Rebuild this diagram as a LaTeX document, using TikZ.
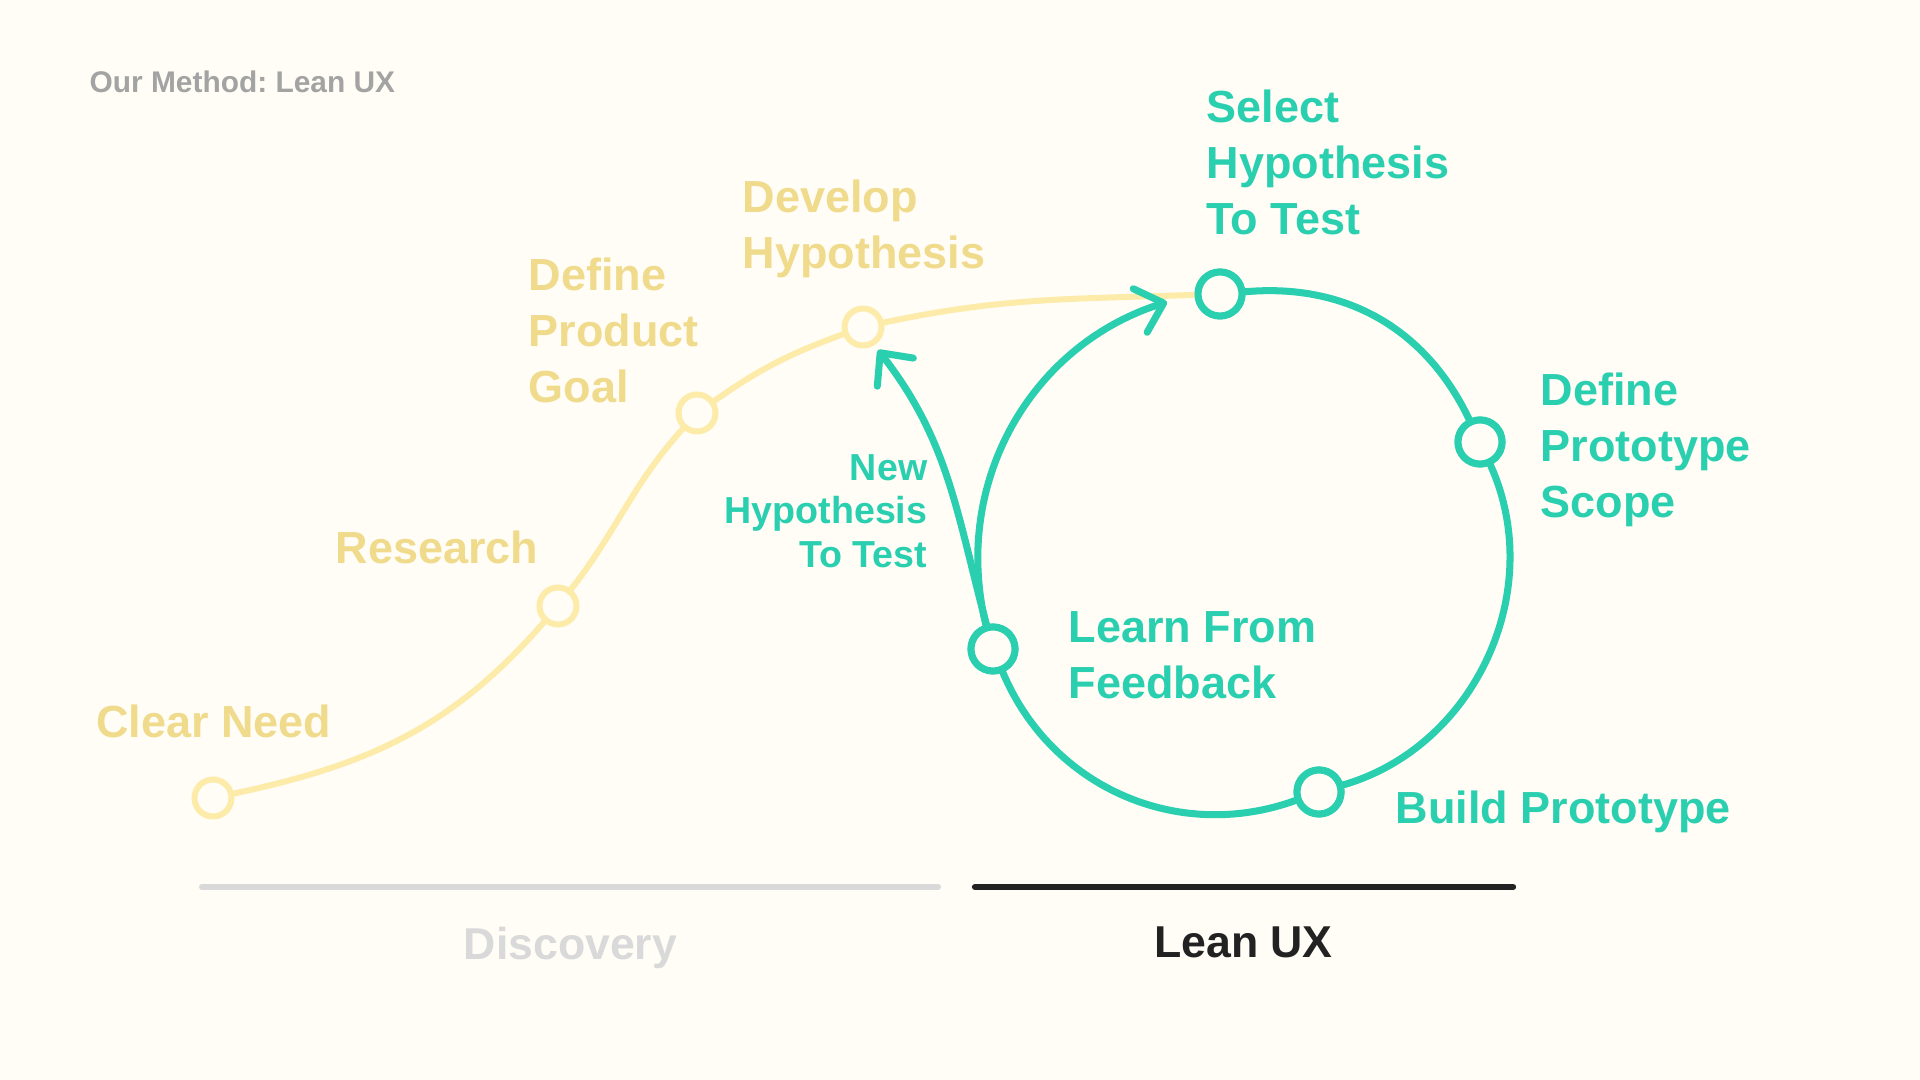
\documentclass[tikz,border=0pt]{standalone}
\usepackage{fontspec}
\setmainfont{Liberation Sans}
\usetikzlibrary{arrows.meta}

\definecolor{bgpaper}{HTML}{FFFDF6}
\definecolor{discline}{HTML}{FDEBAA}
\definecolor{disctext}{HTML}{F0DB8C}
\definecolor{leanteal}{HTML}{2ACFAF}
\definecolor{titlegray}{HTML}{A3A3A3}
\definecolor{phasegray}{HTML}{D9D9D9}
\definecolor{phaseink}{HTML}{222222}

\frenchspacing
\begin{document}
\begin{tikzpicture}[
  discdot/.style={circle, draw=discline, fill=bgpaper, line width=1.7pt,
    minimum size=0.37cm, inner sep=0pt},
  leandot/.style={circle, draw=leanteal, fill=bgpaper, line width=2pt,
    minimum size=0.44cm, inner sep=0pt},
  disclabel/.style={anchor=north west, inner sep=0pt, align=left, text=disctext,
    font=\fontsize{12.8}{15.9}\selectfont\bfseries},
  leanlabel/.style={disclabel, text=leanteal},
  leanpath/.style={draw=leanteal, line width=2pt, line cap=round,
    -{Straight Barb[length=7pt, width=13pt, round]}},
  phasebar/.style={line width=1.7pt, line cap=round}]
  \fill[bgpaper] (0,0) rectangle (19.2,10.8);
  \useasboundingbox (0,0) rectangle (19.2,10.8);

  % discovery curve
  \node[discdot] (cn) at (2.13,2.82) {};
  \node[discdot] (rs) at (5.58,4.74) {};
  \node[discdot] (pg) at (6.97,6.67) {};
  \node[discdot] (dh) at (8.63,7.53) {};
  \node[leandot] (sh) at (12.20,7.86) {};
  \draw[discline, line width=1.7pt, line cap=round]
    (cn) to[out=12, in=229] (rs) to[out=52, in=228] (pg)
    to[out=35, in=200] (dh) to[out=12, in=182] (sh);

  % lean ux loop
  \node[leandot] (dp) at (14.80,6.38) {};
  \node[leandot] (bp) at (13.19,2.88) {};
  \node[leandot] (lf) at (9.93,4.31) {};
  \coordinate (tipsel) at (11.67,7.78);
  \coordinate (tipdev) at (8.78,7.30);
  \draw[leanpath, -] (sh) to[bend left=34.7] (dp);
  \draw[leanpath, -] (dp) to[bend left=49] (bp);
  \draw[leanpath, -] (bp) to[bend left=43.5] (lf);
  \draw[leanpath] (lf) to[bend left=43] (tipsel);
  \draw[leanpath] (lf) to[out=105, in=-52] (tipdev);
  \foreach \n in {sh,dp,bp,lf}
    \node[leandot] at (\n) {};

  % labels
  \node[font=\fontsize{8.5}{10}\selectfont\bfseries, text=titlegray,
    anchor=north west, inner sep=0pt] (title) at (0.89,10.095) {Our Method: Lean UX};
  \node[disclabel] (cnl) at (0.955,3.76) {Clear Need};
  \node[disclabel] (rsl) at (3.35,5.50) {Research};
  \node[disclabel] (pgl) at (5.28,8.23) {Define\\Product\\Goal};
  \node[disclabel] (dhl) at (7.42,9.01) {Develop\\Hypothesis};
  \node[leanlabel] (shl) at (12.06,9.91) {Select\\Hypothesis\\To Test};
  \node[leanlabel] (dpl) at (15.40,7.08) {Define\\Prototype\\Scope};
  \node[leanlabel] (bpl) at (13.95,2.90) {Build Prototype};
  \node[leanlabel] (lfl) at (10.68,4.69) {Learn From\\Feedback};
  \node[leanlabel, anchor=north east, align=right,
    font=\fontsize{10.7}{12.5}\selectfont\bfseries] (nhl) at (9.28,6.265)
    {New\\Hypothesis\\To Test};

  % phases
  \draw[phasebar, phasegray] (2.02,1.93) -- (9.38,1.93);
  \draw[phasebar, phaseink, line width=1.8pt] (9.75,1.93) -- (15.13,1.93);
  \node[font=\fontsize{12.7}{15}\selectfont\bfseries, text=phasegray,
    anchor=north, inner sep=0pt] (disc) at (5.705,1.54) {Discovery};
  \node[font=\fontsize{12.7}{15}\selectfont\bfseries, text=phaseink,
    anchor=north, inner sep=0pt] (lean) at (12.435,1.54) {Lean UX};
\end{tikzpicture}
\end{document}
